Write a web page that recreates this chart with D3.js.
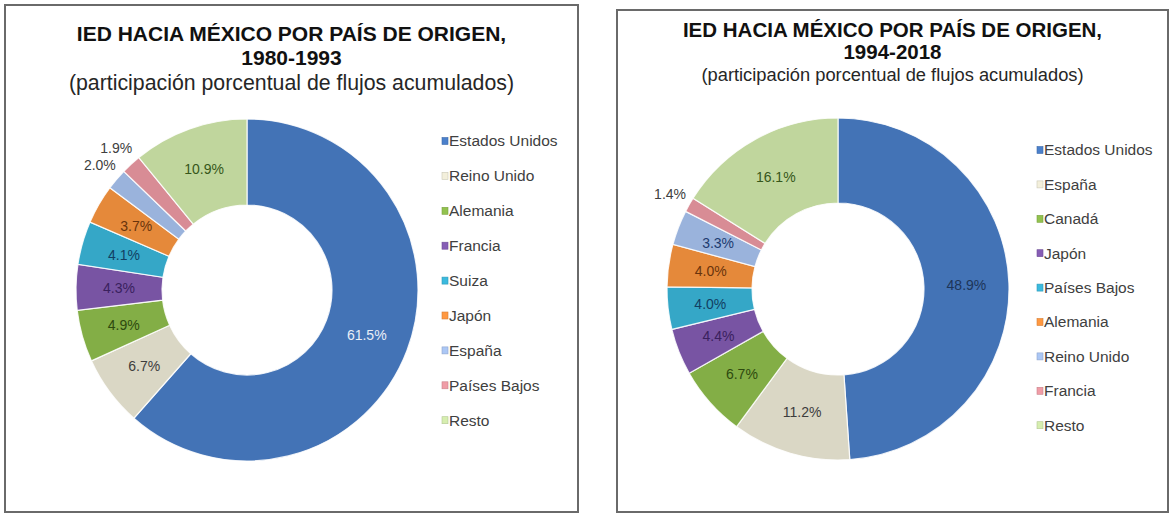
<!DOCTYPE html>
<meta charset="utf-8">
<script src="https://cdn.jsdelivr.net/npm/d3@7"></script>
<style>
body { margin: 0; background: #fff; }
text { font-family: "Liberation Sans", Arial, sans-serif; }
.legend text { fill: #404040; font-size: 15.5px; }
.lbl { font-size: 14px; text-anchor: middle; dominant-baseline: central; }
</style>
<body>
<script>

// data
let leftCats = ['Estados Unidos', 'Reino Unido', 'Alemania', 'Francia', 'Suiza', 'Japón', 'España', 'Países Bajos', 'Resto'];
let leftVals = [61.5, 6.7, 4.9, 4.3, 4.1, 3.7, 2.0, 1.9, 10.9];

let rightCats = ['Estados Unidos', 'España', 'Canadá', 'Japón', 'Países Bajos', 'Alemania', 'Reino Unido', 'Francia', 'Resto'];
let rightVals = [48.9, 11.2, 6.7, 4.4, 4.0, 4.0, 3.3, 1.4, 16.1];

let color = ['#4b80cb', '#f3efdb', '#92c24e', '#865db5', '#3bbade', '#ff9840', '#abc7f5', '#f09ca6', '#d6eeaf'];
let textColor = ['#e9eef7', '#3d3d3d', '#2e4a0f', '#3a215e', '#123f63', '#6a340c', '#1e3b70', '#404040', '#36561a'];

let width = 1175, height = 515;

let svg = d3.select("body").append("svg")
    .attr("width", width)
    .attr("height", height);

let defs = svg.append("defs");

let charts = [
  { box: [5, 5, 573, 507], title: ['IED HACIA MÉXICO POR PAÍS DE ORIGEN,', '1980-1993'],
    sub: '(participación porcentual de flujos acumulados)',
    tSize: 21, sSize: 21.3, tY: [41, 65], sY: 90,
    cx: 247, cy: 290, r: 171, ir: 85, cats: leftCats, vals: leftVals,
    legX: 442, legY: 141, legStep: 34.9, topText: '#e9eef7' },
  { box: [617, 10, 551, 502], title: ['IED HACIA MÉXICO POR PAÍS DE ORIGEN,', '1994-2018'],
    sub: '(participación porcentual de flujos acumulados)',
    tSize: 20.5, sSize: 18.3, tY: [37, 59], sY: 81,
    cx: 838, cy: 289, r: 171, ir: 86, cats: rightCats, vals: rightVals,
    legX: 1037, legY: 150, legStep: 34.4, topText: '#1d3559' }
];

charts.forEach(function(c, ci) {
  let g = svg.append("g");

  g.append("rect")
      .attr("x", c.box[0]).attr("y", c.box[1])
      .attr("width", c.box[2]).attr("height", c.box[3])
      .attr("fill", "#fff")
      .attr("stroke", "#6a6a6a")
      .attr("stroke-width", 2);

  let mid = c.box[0] + c.box[2] / 2;
  c.title.forEach(function(t, i) {
    g.append("text")
        .attr("x", mid).attr("y", c.tY[i])
        .attr("text-anchor", "middle")
        .style("font-weight", "bold")
        .style("font-size", c.tSize + "px")
        .attr("fill", "#111")
        .text(t);
  });
  g.append("text")
      .attr("x", mid).attr("y", c.sY)
      .attr("text-anchor", "middle")
      .style("font-size", c.sSize + "px")
      .attr("fill", "#262626")
      .text(c.sub);

  // bevel-ish shading per colour
  color.forEach(function(col, i) {
    let grad = defs.append("radialGradient")
        .attr("id", "g" + ci + "_" + i)
        .attr("gradientUnits", "userSpaceOnUse")
        .attr("cx", c.cx).attr("cy", c.cy).attr("r", c.r);
    let k = c.ir / c.r;
    let base = d3.color(col);
    grad.append("stop").attr("offset", 0).attr("stop-color", base.brighter(0.5).toString());
    grad.append("stop").attr("offset", k).attr("stop-color", base.brighter(0.5).toString());
    grad.append("stop").attr("offset", k + 0.05).attr("stop-color", col);
    grad.append("stop").attr("offset", 0.94).attr("stop-color", col);
    grad.append("stop").attr("offset", 1).attr("stop-color", base.darker(0.3).toString());
  });

  let pie = d3.pie().sort(null).value(function(d) { return d; });
  let arcs = pie(c.vals);

  let arc = d3.arc().innerRadius(c.ir).outerRadius(c.r);
  let outArc = d3.arc().innerRadius(c.r + 22).outerRadius(c.r + 22);

  let pieG = g.append("g").attr("transform", "translate(" + c.cx + "," + c.cy + ")");

  pieG.selectAll("path")
      .data(arcs)
      .enter().append("path")
      .attr("d", arc)
      .attr("fill", function(d, i) { return "url(#g" + ci + "_" + i + ")"; })
      .attr("stroke", "#ffffff")
      .attr("stroke-opacity", 0.85)
      .attr("stroke-width", 1.2);

  pieG.selectAll(".lbl")
      .data(arcs)
      .enter().append("text")
      .attr("class", "lbl")
      .attr("transform", function(d) {
        let p = d.data < 2.5 ? outArc.centroid(d) : arc.centroid(d);
        return "translate(" + p + ")";
      })
      .attr("fill", function(d, i) {
        if (i === 0) return c.topText;
        return d.data < 2.5 ? "#404040" : textColor[i];
      })
      .text(function(d) { return d.data.toFixed(1) + "%"; });

  let leg = g.append("g").attr("class", "legend");
  let item = leg.selectAll("g")
      .data(c.cats)
      .enter().append("g")
      .attr("transform", function(d, i) { return "translate(" + c.legX + "," + (c.legY + i * c.legStep) + ")"; });

  item.append("rect")
      .attr("x", 0).attr("y", -3.5)
      .attr("width", 6).attr("height", 7)
      .attr("fill", function(d, i) { return color[i]; })
      .attr("stroke", function(d, i) { return d3.color(color[i]).darker(0.5); })
      .attr("stroke-width", 0.6);

  item.append("text")
      .attr("x", 7)
      .attr("dy", "0.35em")
      .text(function(d) { return d; });
});

</script>
</body>
